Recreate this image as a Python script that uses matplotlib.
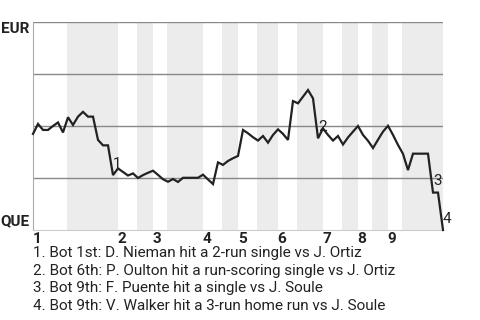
import matplotlib.pyplot as plt
import numpy as np

plt.rcParams['font.family'] = ['Roboto', 'DejaVu Sans']

# EUR win probability (%) after each play
win_prob = [46.2, 51.0, 48.1, 48.1, 50.0, 51.7, 46.9, 54.2, 50.5, 54.5, 56.8, 54.5, 54.5,
            43.3, 40.7, 40.7,
            26.4, 29.6, 27.9, 26.2, 27.2, 25.0, 26.4, 27.5, 28.5, 26.5, 24.4, 23.2, 24.5,
            23.1, 25.1, 25.1, 25.1, 25.1, 26.6, 24.3, 22.1,
            32.5, 31.3, 33.2, 34.5, 35.6,
            48.1, 46.5, 44.6, 43.0, 45.2, 42.0, 45.7, 48.4, 46.2, 43.3,
            62.0, 60.9, 64.1, 67.3, 63.3,
            44.1, 48.8, 45.7, 43.0, 45.2, 41.1, 44.5, 47.3, 50.0, 45.7, 42.9, 39.4, 43.4,
            47.3, 50.1, 45.7, 40.9, 36.6, 28.8,
            36.7, 36.7, 36.7, 36.7,
            18.0, 18.0, 0.0]

# half-inning boundaries in play index units
half_bounds = [0, 6.75, 16.9, 20.8, 23.9, 26.8, 33.9, 37.8, 41.0, 44.7,
               48.9, 52.8, 57.9, 61.8, 64.9, 67.8, 70.9, 73.8, 82]
innings = ['1', '2', '3', '4', '5', '6', '7', '8', '9']

event_idx = [16, 57, 80, 82]
event_text = ['1. Bot 1st: D. Nieman hit a 2-run single vs J. Ortiz',
              '2. Bot 6th: P. Oulton hit a run-scoring single vs J. Ortiz',
              '3. Bot 9th: F. Puente hit a single vs J. Soule',
              '4. Bot 9th: V. Walker hit a 3-run home run vs J. Soule']

fig = plt.figure(figsize=(4.8, 3.2), dpi=100)
ax = fig.add_axes([33/480, 1-230/320, 410/480, 208/320])

x = np.arange(len(win_prob))

# shade bottom halves
for i in range(1, len(half_bounds)-1, 2):
    ax.axvspan(half_bounds[i], half_bounds[i+1], color='#ececec', lw=0, zorder=0)

for g in [25, 50, 75, 100]:
    ax.axhline(g, color='#888888', lw=1, zorder=1)

ax.plot(x, win_prob, color='#222222', lw=1.6, zorder=3, clip_on=False,
        solid_joinstyle='miter')

for k, i in enumerate(event_idx):
    ax.annotate(str(k+1), (x[i], win_prob[i]), xytext=(0, 3), textcoords='offset points',
                ha='left', va='bottom', fontsize=11, color='#222222', zorder=4)

ax.set_xlim(0, len(win_prob)-1)
ax.set_ylim(0, 100)
ax.set_xticks([])
ax.set_yticks([])
for s in ['top', 'right']:
    ax.spines[s].set_visible(False)
ax.spines['left'].set_color('#aaaaaa')
ax.spines['bottom'].set_color('#cccccc')

ax.text(-0.008, 1.0, 'EUR', transform=ax.transAxes, ha='right', va='top',
        fontsize=11, fontweight='bold', color='#222222')
ax.text(-0.008, 0.01, 'QUE', transform=ax.transAxes, ha='right', va='bottom',
        fontsize=11, fontweight='bold', color='#222222')

for n, lab in enumerate(innings):
    ax.text(half_bounds[2*n], -0.01, lab, ha='left', va='top', fontsize=11,
            fontweight='bold', color='#222222', transform=ax.get_xaxis_transform())

for k, t in enumerate(event_text):
    fig.text(33/480, 1-(246+17.7*k)/320, t, ha='left', va='top', fontsize=11, color='#222222')

fig.savefig('out.png', dpi=100)
